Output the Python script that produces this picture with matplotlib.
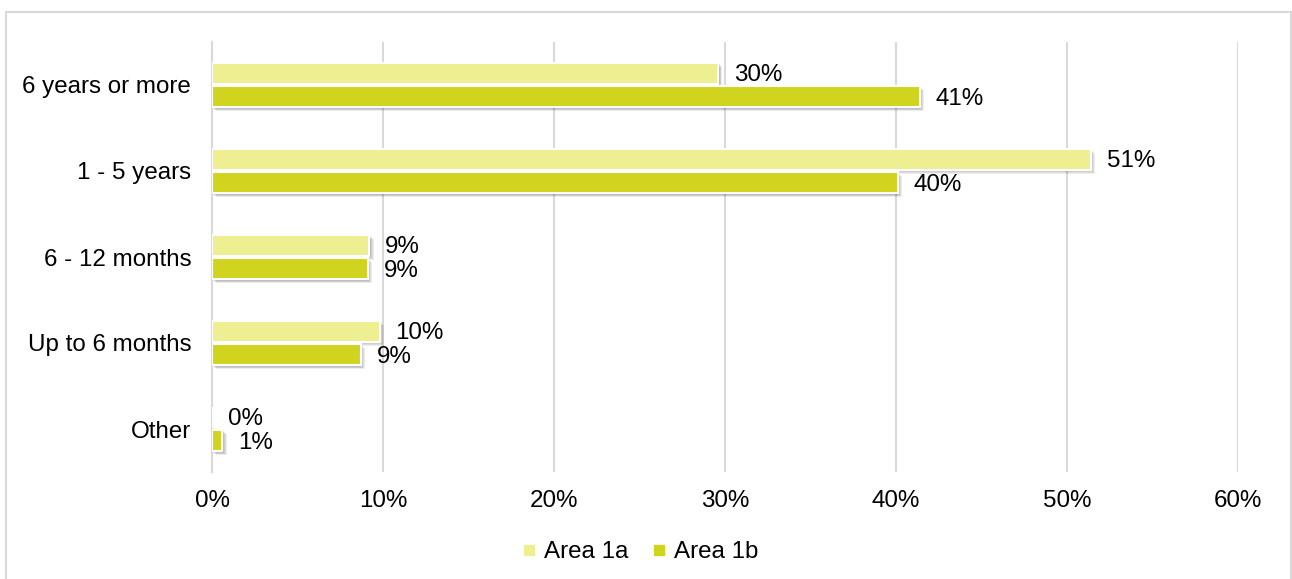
"""Duration of involvement by area: horizontal grouped bars."""
import matplotlib.pyplot as plt
import matplotlib.patheffects as pe
from matplotlib.lines import Line2D
from matplotlib.patches import Rectangle
from matplotlib.ticker import FuncFormatter

# Categories listed bottom to top
categories = ["Other", "Up to 6 months", "6 - 12 months", "1 - 5 years", "6 years or more"]
area_1a = [0.0, 9.8, 9.2, 51.4, 29.6]
area_1b = [0.6, 8.7, 9.1, 40.1, 41.4]
x_ticks = [0, 10, 20, 30, 40, 50, 60]

LIGHT = "#eeef91"
DARK = "#d0d41e"
GRID = "#d9d9d9"

plt.rcParams["font.family"] = ["Liberation Sans", "DejaVu Sans"]
plt.rcParams["font.size"] = 17.4


def shadow():
    """Soft drop shadow built from a few offset layers."""
    layers = [pe.SimplePatchShadow(offset=(d, -d), shadow_rgbFace="black", alpha=0.07)
              for d in (1, 1.7, 2.4, 3.1)]
    return layers + [pe.Normal()]


fig = plt.figure(figsize=(12.92, 5.79), dpi=100)
ax = fig.add_axes([212 / 1292, 1 - 472 / 579, 1026 / 1292, 430 / 579])

# outer chart frame
fig.patches.append(Rectangle((6 / 1292, -0.05), 1285 / 1292, 1.05 - 12 / 579,
                             transform=fig.transFigure, fill=False,
                             edgecolor=GRID, linewidth=1.5))

pos = list(range(len(categories)))
h = 0.245
off = 0.135
bars_a = ax.barh([p + off for p in pos], area_1a, height=h, color=LIGHT,
                 edgecolor="white", linewidth=1.5, label="Area 1a", zorder=3)
bars_b = ax.barh([p - off for p in pos], area_1b, height=h, color=DARK,
                 edgecolor="white", linewidth=1.5, label="Area 1b", zorder=3)
for bar in list(bars_a) + list(bars_b):
    bar.set_path_effects(shadow())

for bars, vals in ((bars_a, area_1a), (bars_b, area_1b)):
    for bar, v in zip(bars, vals):
        ax.annotate(f"{v:.0f}%", (v, bar.get_y() + bar.get_height() / 2),
                    xytext=(11.5, -1.5), textcoords="offset points",
                    ha="left", va="center", color="black", zorder=4)

ax.set_xlim(0, 60)
ax.set_ylim(-0.5, 4.5)
ax.set_xticks(x_ticks)
ax.xaxis.set_major_formatter(FuncFormatter(lambda v, _: f"{v:.0f}%"))
ax.set_yticks(pos)
ax.set_yticklabels(categories)
ax.tick_params(axis="both", length=0, colors="black")
ax.tick_params(axis="y", pad=15)
ax.tick_params(axis="x", pad=13)
ax.grid(axis="x", color=GRID, linewidth=1.5, zorder=0)
ax.set_axisbelow(True)
for side in ("top", "right", "bottom"):
    ax.spines[side].set_visible(False)
ax.spines["left"].set_color(GRID)
ax.spines["left"].set_linewidth(1.5)

handles = [Line2D([], [], marker="s", linestyle="none", markersize=7,
                  markerfacecolor=c, markeredgecolor=c) for c in (LIGHT, DARK)]
fig.legend(handles, ["Area 1a", "Area 1b"], loc="center",
           bbox_to_anchor=(640 / 1292, 1 - 552 / 579), ncol=2, frameon=False,
           handlelength=0.6, handletextpad=0.3, columnspacing=1.0)

fig.savefig("out.png", dpi=100, facecolor="white")
